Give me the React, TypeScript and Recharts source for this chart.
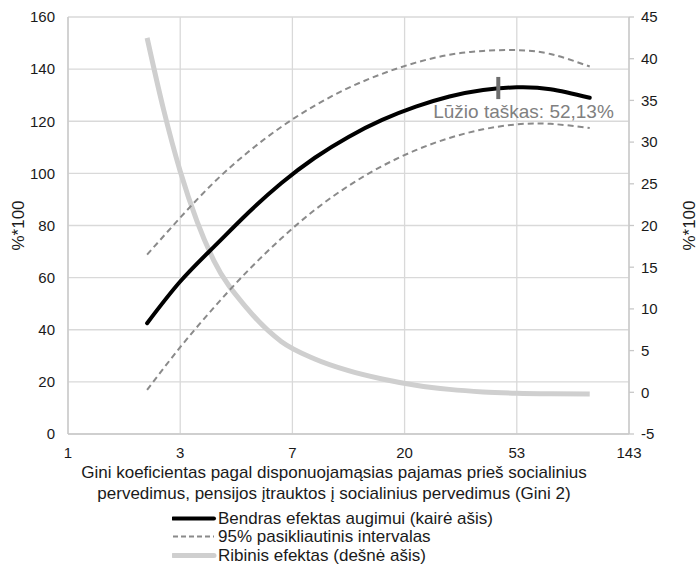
import React from 'react';
import {
  LineChart,
  Line,
  XAxis,
  YAxis,
  CartesianGrid,
  ReferenceLine,
  ReferenceDot,
} from 'recharts';

// x positions are in ln(Gini) units: tick k corresponds to label xTickLabels[k]
const xTickValues = [0, 1, 2, 3, 4, 5];
const xTickLabels = ['1', '3', '7', '20', '53', '143'];
const leftTicks = [0, 20, 40, 60, 80, 100, 120, 140, 160];
const rightTicks = [-5, 0, 5, 10, 15, 20, 25, 30, 35, 40, 45];

// left-axis series (Bendras efektas and its 95% interval)
const xLn = [0.705, 1.0, 1.3, 1.6, 1.9, 2.2, 2.5, 2.8, 3.1, 3.4, 3.7, 4.0, 4.3, 4.65];
const totalEffect = [42.5, 58.5, 71.8, 84.6, 96.2, 106, 114, 120.5, 125.6, 129.5, 132, 133, 132.3, 129];
const upperCI = [68.8, 83, 96.5, 108, 117.8, 126, 132.8, 138.2, 142.5, 145.5, 147, 147.3, 145.8, 141];
const lowerCI = [16.9, 33.3, 48.5, 62.5, 75, 86, 95.2, 102.8, 108.9, 113.6, 116.9, 118.8, 119, 117.4];

// right-axis series (Ribinis efektas)
const xLnMarginal = [0.705, 0.85, 1.0, 1.15, 1.3, 1.6, 1.9, 2.2, 2.5, 2.8, 3.1, 3.4, 3.7, 4.0, 4.3, 4.65];
const marginalEffect = [42.5, 34, 26.5, 20.5, 15.8, 10, 6.1, 4.0, 2.6, 1.6, 0.85, 0.35, 0.05, -0.1, -0.17, -0.2];

const breakX = 3.835;
const breakLow = 128.5;
const breakHigh = 137;
const breakLabel = 'Lūžio taškas: 52,13%';

const legendItems = [
  { name: 'Bendras efektas augimui (kairė ašis)', color: '#000000', width: 4, dash: '' },
  { name: '95% pasikliautinis intervalas', color: '#8a8a8a', width: 2, dash: '5 3' },
  { name: 'Ribinis efektas (dešnė ašis)', color: '#cfcfcf', width: 5, dash: '' },
];

const data = xLn.map((x, i) => ({
  x,
  total: totalEffect[i],
  upper: upperCI[i],
  lower: lowerCI[i],
}));

const marginalData = xLnMarginal.map((x, i) => ({ x, marginal: marginalEffect[i] }));

const FONT = '"Liberation Sans", Arial, sans-serif';
const TEXT = '#1a1a1a';
const GRID = '#d9d9d9';

const makeAxisLabel = (cx: number) => (props: any) => {
  const vb = props.viewBox || {};
  const cy = vb.y + vb.height / 2;
  return (
    <text
      x={cx}
      y={cy}
      transform={`rotate(-90, ${cx}, ${cy})`}
      textAnchor="middle"
      dominantBaseline="central"
      fontSize={17}
      fill={TEXT}
      fontFamily={FONT}
    >
      %*100
    </text>
  );
};

const LeftAxisLabel = makeAxisLabel(18);
const RightAxisLabel = makeAxisLabel(689);

export default function App() {
  return (
    <div
      style={{
        position: 'absolute',
        left: 0,
        top: 0,
        width: 699,
        height: 566,
        background: '#ffffff',
        fontFamily: FONT,
      }}
    >
      <LineChart
        width={699}
        height={566}
        data={data}
        margin={{ top: 17, right: 0, left: 0, bottom: 102 }}
      >
        <CartesianGrid
          yAxisId="left"
          stroke={GRID}
          strokeWidth={1.3}
          verticalValues={xTickValues}
        />
        <XAxis
          dataKey="x"
          type="number"
          domain={[0, 5]}
          ticks={xTickValues}
          tickFormatter={(v: number) => xTickLabels[Math.round(v)]}
          interval={0}
          axisLine={{ stroke: '#c8c8c8', strokeWidth: 1.3 }}
          tickLine={false}
          tickMargin={7}
          height={30}
          tick={{ fontSize: 15, fill: TEXT, fontFamily: FONT }}
        />
        <YAxis
          yAxisId="left"
          domain={[0, 160]}
          ticks={leftTicks}
          interval={0}
          width={68}
          axisLine={{ stroke: '#c8c8c8', strokeWidth: 1.3 }}
          tickLine={false}
          tickMargin={7}
          tick={{ fontSize: 15, fill: TEXT, fontFamily: FONT }}
          label={<LeftAxisLabel />}
        />
        <YAxis
          yAxisId="right"
          orientation="right"
          domain={[-5, 45]}
          ticks={rightTicks}
          interval={0}
          width={70}
          axisLine={{ stroke: '#c8c8c8', strokeWidth: 1.3 }}
          tickLine={{ stroke: '#c8c8c8', strokeWidth: 1.3 }}
          tickSize={5}
          tickMargin={7}
          tick={{ fontSize: 15, fill: TEXT, fontFamily: FONT }}
          label={<RightAxisLabel />}
        />
        <Line
          yAxisId="right"
          data={marginalData}
          dataKey="marginal"
          type="monotone"
          stroke="#cfcfcf"
          strokeWidth={5}
          dot={false}
          isAnimationActive={false}
        />
        <Line
          yAxisId="left"
          dataKey="upper"
          type="natural"
          stroke="#8a8a8a"
          strokeWidth={2}
          strokeDasharray="6 4"
          dot={false}
          isAnimationActive={false}
        />
        <Line
          yAxisId="left"
          dataKey="lower"
          type="natural"
          stroke="#8a8a8a"
          strokeWidth={2}
          strokeDasharray="6 4"
          dot={false}
          isAnimationActive={false}
        />
        <Line
          yAxisId="left"
          dataKey="total"
          type="natural"
          stroke="#000000"
          strokeWidth={4}
          strokeLinecap="round"
          dot={false}
          isAnimationActive={false}
        />
        <ReferenceLine
          yAxisId="left"
          segment={[
            { x: breakX, y: breakLow },
            { x: breakX, y: breakHigh },
          ]}
          stroke="#6e6e6e"
          strokeWidth={4}
        />
        <ReferenceDot
          yAxisId="left"
          x={4.06}
          y={124}
          r={0}
          fill="none"
          stroke="none"
          label={{
            value: breakLabel,
            position: 'center',
            fill: '#808080',
            fontSize: 19,
            fontFamily: FONT,
          }}
        />
      </LineChart>

      <div
        style={{
          position: 'absolute',
          left: 0,
          top: 461.5,
          width: 668,
          textAlign: 'center',
          fontSize: 17,
          lineHeight: '21px',
          color: TEXT,
          fontFamily: FONT,
        }}
      >
        Gini koeficientas pagal disponuojamąsias pajamas prieš socialinius
        <br />
        pervedimus, pensijos įtrauktos į socialinius pervedimus (Gini 2)
      </div>

      {legendItems.map((item, i) => (
        <div
          key={item.name}
          style={{
            position: 'absolute',
            left: 172,
            top: 508.5 + i * 18.6,
            height: 19,
            display: 'flex',
            alignItems: 'center',
            fontSize: 17,
            lineHeight: '19px',
            color: TEXT,
            fontFamily: FONT,
            whiteSpace: 'nowrap',
          }}
        >
          <svg width={45} height={19} style={{ display: 'block' }}>
            <line
              x1={1}
              y1={9.5}
              x2={42}
              y2={9.5}
              stroke={item.color}
              strokeWidth={item.width}
              strokeDasharray={item.dash || undefined}
              strokeLinecap={item.dash ? 'butt' : 'round'}
            />
          </svg>
          <span style={{ marginLeft: 1 }}>{item.name}</span>
        </div>
      ))}
    </div>
  );
}
